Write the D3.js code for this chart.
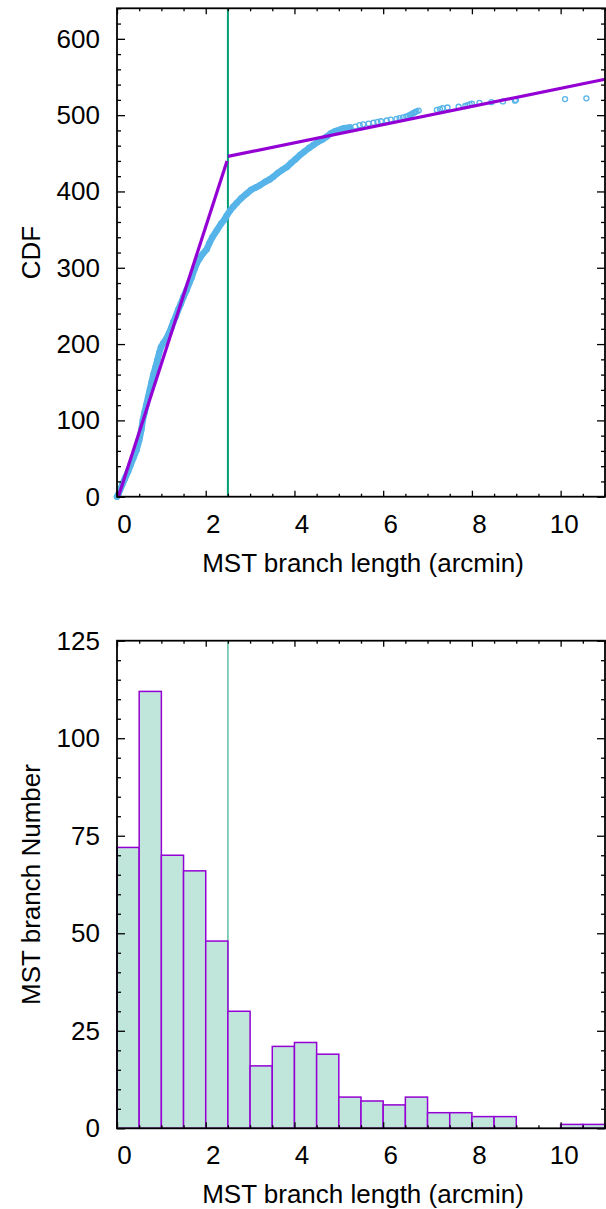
<!DOCTYPE html>
<html>
<head>
<meta charset="utf-8">
<script src="https://cdn.jsdelivr.net/npm/d3@7"></script>
<style>
  html, body { margin: 0; padding: 0; background: #fff; }
  svg { display: block; font-family: "Liberation Sans", Arial, Helvetica, sans-serif; }
</style>
</head>
<body>
<svg id="fig" width="606" height="1209"></svg>
<script>
// ---------------- data ----------------
// Break point (arcmin) separating the two linear regimes of the CDF
const breakLength = 2.5;

// Cumulative distribution of MST branch lengths: length (arcmin) and running count
const cdfLength = [
  0.00, 0.03, 0.07, 0.12, 0.18, 0.25, 0.31, 0.37, 0.44, 0.50, 0.55, 0.58, 0.62, 0.66, 0.70,
  0.74, 0.78, 0.82, 0.87, 0.91, 0.95, 0.99, 1.04, 1.10, 1.17, 1.22, 1.27, 1.33, 1.38, 1.44,
  1.50, 1.57, 1.63, 1.68, 1.74, 1.80, 1.86, 1.93, 2.02, 2.08, 2.15, 2.25, 2.35, 2.42, 2.47,
  2.55, 2.62, 2.70, 2.80, 2.92, 3.02, 3.12, 3.22, 3.35, 3.45, 3.52, 3.62, 3.72, 3.83, 3.92,
  4.02, 4.13, 4.22, 4.33, 4.43, 4.53, 4.63, 4.73, 4.82, 4.92, 5.03, 5.12, 5.25,
  5.37, 5.47, 5.55, 5.67, 5.78, 5.87, 5.95, 6.08, 6.17, 6.30, 6.37, 6.45, 6.52, 6.56, 6.60,
  6.63, 6.66, 6.69, 6.72, 6.75, 6.80, 7.21, 7.28, 7.34, 7.45, 7.70, 7.85, 7.90, 7.95, 8.00,
  8.17, 8.44, 8.70, 8.97, 8.99, 10.10, 10.58
];
const cdfCount = [
  0, 3, 9, 16, 24, 33, 42, 51, 61, 74, 88, 100, 110, 120, 130,
  140, 150, 160, 170, 179, 188, 196, 201, 206, 214, 221, 229, 237, 245, 253,
  262, 271, 280, 287, 297, 306, 312, 318, 324, 332, 340, 349, 358, 363, 368,
  375, 380, 385, 391, 397, 402, 405, 408, 413, 416, 419, 424, 428, 432, 437,
  442, 448, 452, 457, 461, 465, 468, 472, 476, 479, 481, 483, 484,
  485, 487, 488, 489, 490, 491, 492, 493, 494, 495, 496, 497, 498, 499, 500,
  501, 502, 503, 504, 505, 506, 507, 508, 509, 510, 511, 512, 513, 514, 515,
  516, 517, 518, 519, 520, 521, 522
];

// Two-segment linear fit to the CDF
const fitShortLength = [0.03, 2.48];
const fitShortCount  = [0, 440];
const fitLongLength  = [2.5, 11];
const fitLongCount   = [446, 547];

// Histogram of branch lengths, 0.5 arcmin bins
const binEdges = [0, 0.5, 1, 1.5, 2, 2.5, 3, 3.5, 4, 4.5, 5, 5.5, 6, 6.5, 7, 7.5, 8, 8.5, 9, 9.5, 10, 10.5, 11];
const binCounts = [72, 112, 70, 66, 48, 30, 16, 21, 22, 19, 8, 7, 6, 8, 4, 4, 3, 3, 0, 0, 1, 1];

// Tick labels
const lengthTicks = [0, 2, 4, 6, 8, 10];
const cdfTicks = [0, 100, 200, 300, 400, 500, 600];
const histTicks = [0, 25, 50, 75, 100, 125];

// ---------------- drawing ----------------
const svg = d3.select("#fig");
const FONT = 26;
const purple = "#9400d3";
const green = "#009e73";
const sky = "#56b4e9";

const x = d3.scaleLinear().domain([0, 11]).range([117, 605]);
const yCdf = d3.scaleLinear().domain([0, 640]).range([496.7, 8.3]);
const yHist = d3.scaleLinear().domain([0, 125]).range([1128.3, 640.7]);

function stripAxis(g) {
  g.select(".domain").remove();
  g.selectAll("line").attr("stroke", "#000").attr("stroke-width", 1.3);
}

// Box with inward ticks on all four sides, labels on the left and bottom
function drawFrame(y, yMajor, yMinorCount, title) {
  const [yb, yt] = y.range();
  const [xl, xr] = x.range();
  const g = svg.append("g");
  const xMinor = x.ticks(22).filter(v => !lengthTicks.includes(v));
  const yMinor = y.ticks(yMinorCount).filter(v => !yMajor.includes(v));

  // bottom
  g.append("g").attr("transform", `translate(0,${yb})`)
    .call(d3.axisBottom(x).tickValues(xMinor).tickSize(-3).tickFormat("")).call(stripAxis);
  const bottom = g.append("g").attr("transform", `translate(0,${yb})`)
    .call(d3.axisBottom(x).tickValues(lengthTicks).tickSize(-6).tickPadding(17.5)).call(stripAxis);
  bottom.selectAll("text")
    .attr("font-size", FONT).attr("font-family", null).attr("fill", "#000")
    .attr("dx", d => (String(d).length > 1 ? 3 : 7));
  // top
  g.append("g").attr("transform", `translate(0,${yt})`)
    .call(d3.axisTop(x).tickValues(xMinor).tickSize(-3).tickFormat("")).call(stripAxis);
  g.append("g").attr("transform", `translate(0,${yt})`)
    .call(d3.axisTop(x).tickValues(lengthTicks).tickSize(-6).tickFormat("")).call(stripAxis);
  // left
  g.append("g").attr("transform", `translate(${xl},0)`)
    .call(d3.axisLeft(y).tickValues(yMinor).tickSize(-4).tickFormat("")).call(stripAxis);
  const left = g.append("g").attr("transform", `translate(${xl},0)`)
    .call(d3.axisLeft(y).tickValues(yMajor).tickSize(-8).tickPadding(17)).call(stripAxis);
  left.selectAll("text")
    .attr("font-size", FONT).attr("font-family", null).attr("fill", "#000");
  // right
  g.append("g").attr("transform", `translate(${xr},0)`)
    .call(d3.axisRight(y).tickValues(yMinor).tickSize(-4).tickFormat("")).call(stripAxis);
  g.append("g").attr("transform", `translate(${xr},0)`)
    .call(d3.axisRight(y).tickValues(yMajor).tickSize(-8).tickFormat("")).call(stripAxis);

  // border
  g.append("rect")
    .attr("x", xl).attr("y", yt).attr("width", xr - xl).attr("height", yb - yt)
    .attr("fill", "none").attr("stroke", "#000").attr("stroke-width", 1.8);

  // axis titles
  svg.append("text")
    .attr("x", (xl + xr) / 2 + 2).attr("y", yb + 75)
    .attr("text-anchor", "middle").attr("font-size", FONT)
    .text("MST branch length (arcmin)");
  svg.append("text")
    .attr("transform", `translate(40,${(yt + yb) / 2}) rotate(-90)`)
    .attr("text-anchor", "middle").attr("font-size", FONT)
    .text(title);
}

// ---- upper panel: CDF with two-segment fit ----
const cdf = cdfLength.map((d, i) => ({ len: d, n: cdfCount[i] }));
const upper = svg.append("g");

upper.append("line")
  .attr("x1", x(breakLength)).attr("x2", x(breakLength))
  .attr("y1", yCdf(0)).attr("y2", yCdf(640))
  .attr("stroke", green).attr("stroke-width", 2);

// dense part of the distribution: overlapping markers form a band
upper.append("path")
  .datum(cdf.filter(d => d.n <= 484))
  .attr("fill", "none").attr("stroke", sky).attr("stroke-width", 6.5)
  .attr("stroke-linejoin", "round").attr("stroke-linecap", "round")
  .attr("d", d3.line().x(d => x(d.len)).y(d => yCdf(d.n)));

upper.selectAll("circle.cdf")
  .data(cdf)
  .join("circle")
  .attr("class", "cdf")
  .attr("cx", d => x(d.len)).attr("cy", d => yCdf(d.n))
  .attr("r", 2.5)
  .attr("fill", "none").attr("stroke", sky).attr("stroke-width", 1.3);

const fitLine = d3.line().x(d => x(d[0])).y(d => yCdf(d[1]));
upper.append("path")
  .attr("d", fitLine(fitShortLength.map((d, i) => [d, fitShortCount[i]])))
  .attr("fill", "none").attr("stroke", purple).attr("stroke-width", 3.2);
upper.append("path")
  .attr("d", fitLine(fitLongLength.map((d, i) => [d, fitLongCount[i]])))
  .attr("fill", "none").attr("stroke", purple).attr("stroke-width", 3.2);

drawFrame(yCdf, cdfTicks, 32, "CDF");

// ---- lower panel: histogram ----
const bins = binCounts.map((c, i) => ({ x0: binEdges[i], x1: binEdges[i + 1], n: c }));
const lower = svg.append("g");

lower.append("line")
  .attr("x1", x(breakLength)).attr("x2", x(breakLength))
  .attr("y1", yHist(0)).attr("y2", yHist(125))
  .attr("stroke", green).attr("stroke-opacity", 0.6).attr("stroke-width", 1.6);

lower.selectAll("rect.bar")
  .data(bins.filter(b => b.n > 0))
  .join("rect")
  .attr("class", "bar")
  .attr("x", b => x(b.x0)).attr("width", b => x(b.x1) - x(b.x0))
  .attr("y", b => yHist(b.n)).attr("height", b => yHist(0) - yHist(b.n))
  .attr("fill", "#c0e6dc").attr("stroke", purple).attr("stroke-width", 1.5);

drawFrame(yHist, histTicks, 25, "MST branch Number");
</script>
</body>
</html>
